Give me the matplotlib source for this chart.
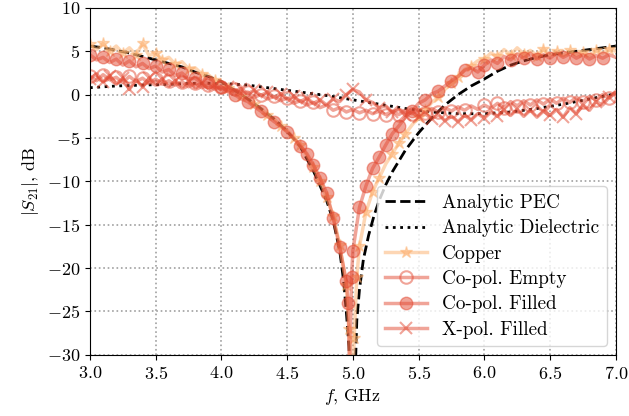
import numpy as np
import matplotlib
matplotlib.use('Agg')
from matplotlib import pyplot as plt

plt.rcParams['font.family'] = 'serif'
plt.rcParams['font.serif'] = ['cmr10', 'DejaVu Serif']
plt.rcParams['mathtext.fontset'] = 'cm'
plt.rcParams['axes.formatter.use_mathtext'] = True
plt.rcParams['font.size'] = 13

# analytic curves
f_pec = [3.0, 3.1, 3.2, 3.3, 3.4, 3.5, 3.6, 3.7, 3.8, 3.9, 4.0, 4.1, 4.2, 4.3, 4.4,
         4.5, 4.6, 4.7, 4.75, 4.8, 4.85, 4.9, 4.93, 4.95, 4.97, 4.99, 5.01, 5.03,
         5.05, 5.08, 5.12, 5.16, 5.2, 5.25, 5.3, 5.4, 5.5, 5.6, 5.7, 5.8, 5.9, 6.0,
         6.1, 6.2, 6.3, 6.4, 6.5, 6.6, 6.7, 6.8, 6.9, 7.0]
s_pec = [5.6, 5.4, 5.1, 4.8, 4.4, 4.0, 3.6, 3.2, 2.6, 2.1, 1.5, 0.5, -0.5, -1.6, -2.8,
         -4.2, -6.0, -8.8, -10.5, -12.2, -14.5, -18.0, -21.5, -25.0, -29.0, -36.0, -36.0, -26.0,
         -22.5, -19.0, -16.2, -14.0, -12.2, -10.4, -8.9, -6.4, -4.4, -2.7, -1.2, 0.0, 1.0, 1.8,
         2.7, 3.4, 3.9, 4.3, 4.6, 4.8, 5.0, 5.2, 5.4, 5.6]

f_diel = [3.0, 3.2, 3.4, 3.6, 3.8, 4.0, 4.2, 4.4, 4.6, 4.8, 5.0, 5.2, 5.4, 5.6, 5.8,
          6.0, 6.2, 6.4, 6.6, 6.8, 7.0]
s_diel = [0.8, 1.0, 1.1, 1.2, 1.3, 1.3, 1.1, 0.7, 0.3, -0.1, -0.6, -1.1, -1.6, -2.0, -2.2,
          -2.2, -2.0, -1.6, -1.1, -0.5, 0.1]

# measured, 0.05 GHz grid from 3.0 to 7.0
freq = np.linspace(3.0, 7.0, 81)

copper = [5.8, 5.2, 5.9, 5.0, 5.6, 4.8, 5.4, 4.6, 5.9, 4.5,
          4.8, 4.0, 4.3, 3.5, 3.8, 3.0, 3.1, 2.4, 2.3, 1.7,
          1.5, 0.8, 0.5, -0.1, -0.5, -1.1, -1.6, -2.3, -2.8, -3.6,
          -4.1, -5.0, -5.8, -7.0, -8.4, -10.0, -11.8, -14.0, -17.3, -22.0,
          -33.0, -17.5, -13.5, -11.2, -9.6, -8.0, -6.8, -5.6, -4.5, -3.5,
          -2.6, -1.8, -0.9, -0.3, 0.6, 1.3, 2.0, 2.9, 3.3, 3.9,
          4.1, 4.8, 4.4, 5.2, 4.6, 5.4, 4.7, 5.1, 4.5, 5.3,
          4.6, 5.0, 4.5, 5.1, 4.6, 4.9, 4.5, 5.2, 4.8, 5.3, 5.0]
copper_dip_f = [4.97, 4.99, 5.01, 5.03]
copper_dip_s = [-27.0, -35.0, -28.0, -21.0]

copol_empty = [2.1, 1.6, 2.3, 1.7, 2.0, 1.4, 2.1, 1.5, 1.9, 1.3,
               1.8, 1.2, 1.6, 1.1, 1.5, 0.9, 1.3, 0.8, 1.1, 0.6,
               0.9, 0.4, 0.6, 0.1, 0.3, -0.3, 0.0, -0.5, -0.2, -0.7,
               -0.4, -1.0, -0.7, -1.2, -0.9, -1.5, -1.2, -1.8, -1.5, -2.0,
               -1.7, -2.1, -1.8, -2.2, -1.9, -2.3, -1.9, -2.3, -1.8, -2.2,
               -1.7, -2.1, -1.6, -2.0, -1.5, -1.9, -1.4, -1.8, -1.3, -1.7,
               -1.2, -1.6, -1.0, -1.5, -0.8, -1.3, -0.7, -1.2, -0.6, -1.1,
               -0.5, -1.0, -0.4, -0.9, -0.3, -0.8, -0.2, -0.6, 0.0, -0.4, 0.3]

copol_filled = [4.6, 4.0, 4.3, 3.7, 4.1, 3.4, 3.9, 3.2, 3.6, 3.0,
                3.3, 2.6, 2.9, 2.2, 2.5, 1.8, 1.9, 1.3, 1.4, 0.8,
                0.9, 0.3, 0.0, -0.5, -0.8, -1.4, -1.9, -2.5, -3.1, -3.6,
                -4.3, -5.0, -5.9, -6.8, -8.1, -9.6, -11.3, -14.2, -17.6, -21.5,
                -18.0, -13.0, -10.5, -8.5, -7.2, -5.8, -4.5, -3.6, -2.6, -1.9,
                -1.0, -0.6, 0.1, 0.4, 1.0, 1.6, 2.1, 2.8, 3.1, 2.6,
                3.4, 4.0, 3.6, 4.4, 4.0, 4.7, 4.2, 4.8, 4.1, 4.6,
                4.2, 4.8, 4.3, 4.7, 4.2, 4.6, 4.1, 4.5, 4.2, 4.6, 4.3]
copol_filled_dip_f = [4.965, 4.975, 4.99]
copol_filled_dip_s = [-24.0, -33.0, -21.0]

xpol_filled = [1.8, 2.4, 1.5, 2.2, 1.2, 1.9, 0.6, 1.7, 0.9, 1.9,
               1.3, 1.8, 1.0, 1.6, 0.9, 1.5, 0.8, 1.3, 0.7, 1.1,
               0.6, 0.9, 0.4, 0.7, 0.1, 0.5, -0.1, 0.3, -0.3, 0.1,
               -0.5, -0.2, -0.8, -0.4, -1.0, -0.6, -1.2, -0.5, -0.8, 0.0,
               0.6, 0.3, -0.6, -0.9, -1.5, -1.3, -2.0, -1.7, -2.4, -2.0,
               -2.6, -2.2, -2.8, -2.3, -3.0, -2.5, -3.1, -2.4, -2.9, -2.2,
               -2.7, -2.0, -2.5, -1.8, -2.4, -1.7, -2.5, -1.8, -2.6, -1.9,
               -2.4, -1.7, -2.6, -1.5, -2.2, -1.2, -1.8, -0.8, -1.2, -0.3, 0.2]


def with_dip(f, s, f_extra, s_extra):
    ff = np.concatenate([f, f_extra])
    ss = np.concatenate([s, s_extra])
    order = np.argsort(ff)
    return ff[order], ss[order]


c_copper = '#fdae6b'
c_meas = '#e34a33'

fig, ax = plt.subplots(figsize=(6.29, 4.16), dpi=100)
fig.subplots_adjust(left=0.143, right=0.979, top=0.981, bottom=0.147)

ax.plot(f_pec, s_pec, '--', color='black', lw=2, label='Analytic PEC')
ax.plot(f_diel, s_diel, ':', color='black', lw=2, label='Analytic Dielectric')

fc, sc = with_dip(freq, copper, copper_dip_f, copper_dip_s)
ax.plot(fc, sc, color=c_copper, alpha=0.5, lw=2.5, marker='*', ms=9,
        markevery=0.025, label='Copper')
ax.plot(freq, copol_empty, color=c_meas, alpha=0.5, lw=2.5, marker='o', ms=9,
        mfc='none', mew=1.5, markevery=0.025, label='Co-pol. Empty')
ff, sf = with_dip(freq, copol_filled, copol_filled_dip_f, copol_filled_dip_s)
ax.plot(ff, sf, color=c_meas, alpha=0.5, lw=2.5, marker='o', ms=9,
        markevery=0.025, label='Co-pol. Filled')
ax.plot(freq, xpol_filled, color=c_meas, alpha=0.5, lw=2.5, marker='x', ms=9,
        mew=1.5, markevery=0.025, label='X-pol. Filled')

ax.set_xlim(3.0, 7.0)
ax.set_ylim(-30, 10)
ax.set_xticks(np.arange(3.0, 7.01, 0.5))
ax.grid(True, linestyle=':', color='#a0a0a0', lw=1.2)
ax.set_xlabel(r'$f$, GHz')
ax.set_ylabel(r'$|S_{21}|$, dB')
ax.legend(loc='lower right', fontsize=13.8, labelspacing=0.38, borderaxespad=0.45,
          handlelength=2.2)

fig.savefig('out.png', dpi=100)
